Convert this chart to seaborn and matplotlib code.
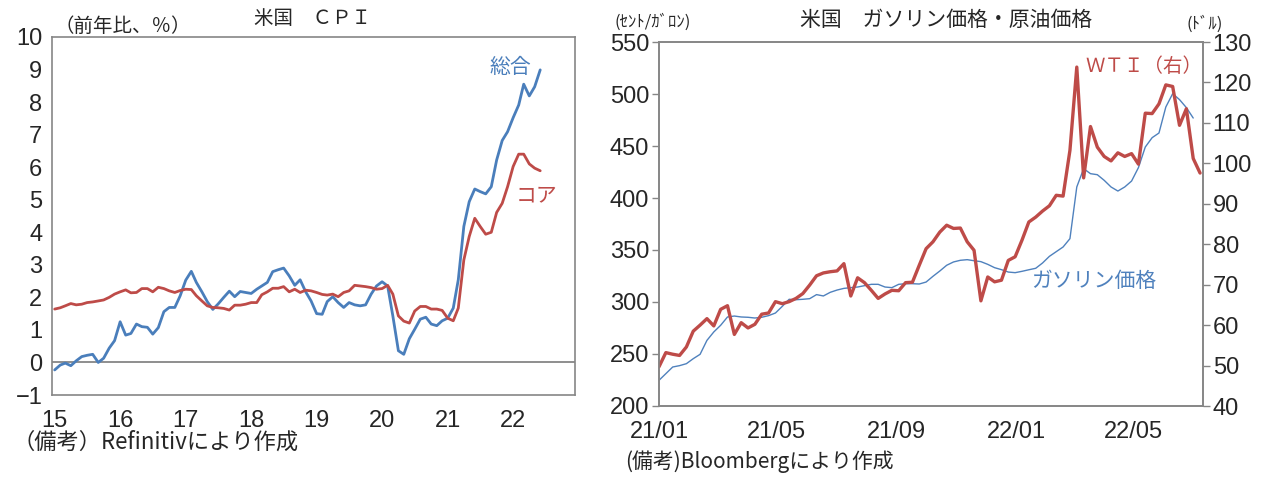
import numpy as np
import pandas as pd
import matplotlib
matplotlib.use('Agg')
import matplotlib.pyplot as plt
import seaborn as sns

# 米国CPI 前年比(%)  2015/01 - 2022/06 月次
cpi_all = [-0.23, -0.08, -0.02, -0.10, 0.05, 0.18, 0.22, 0.25, 0.00, 0.13, 0.44, 0.67,
           1.25, 0.84, 0.89, 1.18, 1.10, 1.08, 0.87, 1.07, 1.56, 1.69, 1.69, 2.05,
           2.53, 2.80, 2.46, 2.17, 1.87, 1.63, 1.80, 2.00, 2.19, 2.02, 2.18, 2.15,
           2.12, 2.25, 2.35, 2.46, 2.79, 2.85, 2.90, 2.66, 2.37, 2.54, 2.17, 1.89,
           1.50, 1.48, 1.87, 2.02, 1.84, 1.69, 1.84, 1.77, 1.74, 1.77, 2.10, 2.35,
           2.48, 2.35, 1.43, 0.36, 0.25, 0.73, 1.02, 1.33, 1.39, 1.18, 1.13, 1.28,
           1.36, 1.67, 2.54, 4.18, 4.94, 5.33, 5.25, 5.18, 5.40, 6.22, 6.82, 7.09,
           7.52, 7.91, 8.55, 8.19, 8.47, 8.99]
cpi_core = [1.64, 1.68, 1.74, 1.81, 1.77, 1.79, 1.84, 1.86, 1.89, 1.92, 2.00, 2.10,
            2.17, 2.23, 2.14, 2.15, 2.27, 2.27, 2.17, 2.31, 2.27, 2.20, 2.15, 2.21,
            2.25, 2.24, 2.05, 1.89, 1.74, 1.69, 1.68, 1.66, 1.61, 1.76, 1.76, 1.79,
            1.84, 1.84, 2.08, 2.17, 2.28, 2.28, 2.33, 2.17, 2.25, 2.15, 2.22, 2.20,
            2.15, 2.09, 2.07, 2.10, 2.02, 2.15, 2.20, 2.37, 2.35, 2.33, 2.30, 2.25,
            2.27, 2.37, 2.10, 1.43, 1.27, 1.21, 1.58, 1.72, 1.72, 1.64, 1.64, 1.60,
            1.36, 1.28, 1.67, 3.15, 3.87, 4.43, 4.18, 3.94, 4.00, 4.61, 4.89, 5.40,
            6.02, 6.40, 6.40, 6.10, 5.97, 5.89]

# ガソリン価格(セント/ガロン, 左) と WTI(ドル, 右)  2021/01/01 から週次
gasoline = [224.7, 231.1, 237.5, 238.8, 240.7, 245.5, 249.7, 263.1, 271.2, 277.6,
            285.6, 286.5, 285.6, 285.3, 284.6, 285.3, 286.9, 289.4, 295.8, 302.6,
            302.2, 302.6, 303.2, 307.1, 305.8, 309.3, 311.5, 313.1, 313.8, 314.4,
            315.7, 317.0, 317.0, 314.4, 313.8, 317.0, 317.6, 317.6, 317.3, 319.2,
            324.7, 329.8, 335.3, 338.5, 340.1, 340.7, 339.7, 338.8, 336.2, 333.0,
            331.1, 328.8, 328.2, 329.5, 331.0, 332.4, 337.5, 343.9, 348.4, 352.9,
            360.9, 410.6, 428.2, 423.4, 422.4, 417.0, 410.6, 406.7, 410.6, 416.3,
            429.2, 449.0, 458.0, 462.5, 487.5, 500.3, 494.6, 486.9, 476.9]
wti = [49.7, 53.2, 52.8, 52.5, 54.6, 58.5, 60.0, 61.6, 59.8, 63.9,
       64.8, 57.7, 60.6, 59.3, 60.2, 62.7, 63.0, 65.8, 65.3, 65.8,
       66.6, 67.8, 69.9, 72.2, 72.9, 73.2, 73.4, 75.2, 67.2, 71.7,
       70.5, 68.6, 66.6, 67.7, 68.6, 68.5, 70.5, 70.6, 74.8, 78.9,
       80.6, 83.0, 84.7, 83.9, 84.0, 80.6, 78.5, 66.0, 71.9, 70.7,
       71.1, 76.0, 76.9, 81.0, 85.5, 86.7, 88.2, 89.5, 92.1, 91.9,
       103.2, 123.8, 96.4, 109.1, 104.0, 101.7, 100.6, 102.6, 101.7, 102.4,
       99.8, 112.4, 112.3, 114.7, 119.4, 119.0, 109.4, 113.5, 101.2, 97.6]

cpi_months = pd.date_range('2015-01-01', periods=len(cpi_all), freq='MS')
weeks = pd.date_range('2021-01-01', periods=len(wti), freq='7D')
gas_weeks = weeks[:len(gasoline)]

year_ticks = pd.date_range('2015-01-01', '2022-01-01', freq='YS')
year_labels = ['15', '16', '17', '18', '19', '20', '21', '22']
month_ticks = pd.to_datetime(['2021-01-01', '2021-05-01', '2021-09-01', '2022-01-01', '2022-05-01'])
month_labels = ['21/01', '21/05', '21/09', '22/01', '22/05']

BLUE = '#4A7EBB'
RED = '#BE4B48'
GRAY = '#868686'

sns.set_style('white')
plt.rcParams['font.family'] = ['Noto Sans CJK JP', 'DejaVu Sans']
NUM = ['Liberation Sans Narrow', 'Liberation Sans', 'DejaVu Sans']

W, H = 1269, 486
fig = plt.figure(figsize=(W / 100, H / 100), dpi=100)


def box(l, t, r, b):
    return [l / W, 1 - b / H, (r - l) / W, (b - t) / H]


def px(x, y):
    return x / W, 1 - y / H


# ---- 左: 米国CPI
ax1 = fig.add_axes(box(52, 37, 575, 395))
sns.lineplot(x=cpi_months, y=cpi_all, ax=ax1, color=BLUE, linewidth=2.0)
sns.lineplot(x=cpi_months, y=cpi_core, ax=ax1, color=RED, linewidth=2.0)
ax1.axhline(0, color=GRAY, linewidth=1.3, zorder=0)
ax1.set_ylim(-1, 10)
ax1.set_xlim(pd.Timestamp('2014-12-17'), pd.Timestamp('2022-12-12'))
ax1.set_yticks(range(-1, 11), labels=['\u22121'] + [str(i) for i in range(0, 11)],
               fontfamily=NUM, fontsize=17)
ax1.set_xticks(year_ticks, labels=year_labels, fontfamily=NUM, fontsize=17)
ax1.tick_params(axis='y', direction='out', length=5, width=1, color=GRAY, pad=2)
ax1.tick_params(axis='x', length=0, pad=11)
for s in ax1.spines.values():
    s.set_color(GRAY)
    s.set_linewidth(1.2)
ax1.set_xlabel('')
ax1.set_ylabel('')

fig.text(*px(313, 18), '米国　ＣＰＩ', ha='center', va='center', fontsize=14)
fig.text(*px(55, 26), '（前年比、％）', ha='left', va='center', fontsize=14)
fig.text(*px(510, 67), '総合', ha='center', va='center', fontsize=15, color=BLUE)
fig.text(*px(537, 195), 'コア', ha='center', va='center', fontsize=15, color=RED)
fig.text(*px(12, 442), '（備考）Refinitivにより作成', ha='left', va='center', fontsize=16)

# ---- 右: ガソリン価格・原油価格
ax2 = fig.add_axes(box(659, 42, 1203, 406))
ax3 = ax2.twinx()
sns.lineplot(x=gas_weeks, y=gasoline, ax=ax2, color='#4F81BD', linewidth=1.0)
sns.lineplot(x=weeks, y=wti, ax=ax3, color=RED, linewidth=2.4)
ax2.set_xlim(pd.Timestamp('2021-01-01'), pd.Timestamp('2022-07-11'))
ax2.set_ylim(200, 550)
ax3.set_ylim(40, 130)
ax2.set_yticks(range(200, 551, 50), labels=[str(v) for v in range(200, 551, 50)],
               fontfamily=NUM, fontsize=17)
ax3.set_yticks(range(40, 131, 10), labels=[str(v) for v in range(40, 131, 10)],
               fontfamily=NUM, fontsize=17)
ax2.set_xticks(month_ticks, labels=month_labels, fontfamily=NUM, fontsize=17)
ax2.tick_params(axis='y', direction='out', length=5, width=1, color=GRAY, pad=2)
ax3.tick_params(axis='y', direction='out', length=5, width=1, color=GRAY, pad=2)
ax2.tick_params(axis='x', direction='out', length=3, width=1, color=GRAY, pad=8)
for a in (ax2, ax3):
    for s in a.spines.values():
        s.set_color(GRAY)
        s.set_linewidth(1.2)
    a.set_xlabel('')
    a.set_ylabel('')

fig.text(*px(946, 20), '米国　ガソリン価格・原油価格', ha='center', va='center', fontsize=15)
fig.text(*px(614, 22), '(ｾﾝﾄ/ｶﾞﾛﾝ)', ha='left', va='center', fontsize=12)
fig.text(*px(1205, 24), '(ﾄﾞﾙ)', ha='center', va='center', fontsize=12)
fig.text(*px(1202, 66), 'ＷＴＩ（右）', ha='right', va='center', fontsize=14, color=RED)
fig.text(*px(1094, 281), 'ガソリン価格', ha='center', va='center', fontsize=15, color='#4F81BD')
fig.text(*px(625, 462), '(備考)Bloombergにより作成', ha='left', va='center', fontsize=15)

fig.savefig('out.png', dpi=100)
